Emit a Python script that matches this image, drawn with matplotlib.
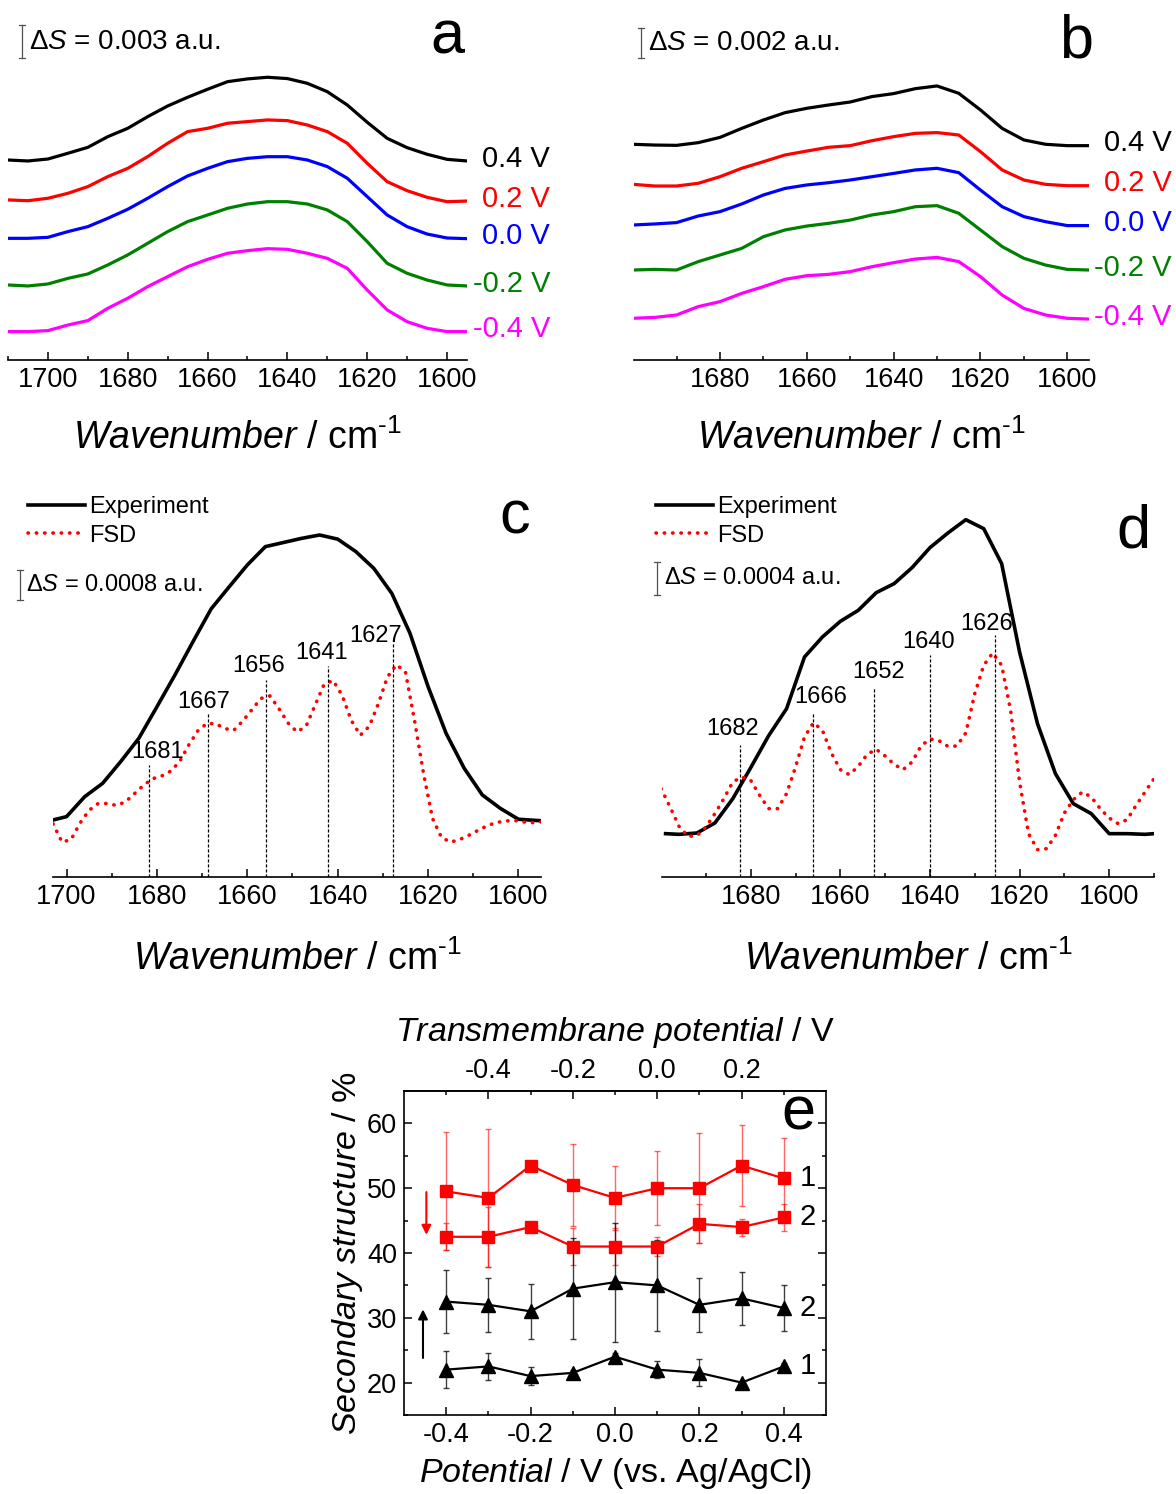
import matplotlib
matplotlib.use('Agg')
import matplotlib.pyplot as plt
from matplotlib.ticker import MultipleLocator, FixedLocator, FormatStrFormatter
from matplotlib.transforms import blended_transform_factory

plt.rcParams['font.family'] = 'Liberation Sans'
plt.rcParams['mathtext.fontset'] = 'custom'
plt.rcParams['mathtext.rm'] = 'Liberation Sans'
plt.rcParams['mathtext.it'] = 'Liberation Sans:italic'
plt.rcParams['axes.unicode_minus'] = False

W, H = 1176, 1494

# ── Panel a: spectra vs potential (ΔS in 1e-3 a.u., offset) ─────────────────
wn_a = [1710, 1705, 1700, 1695, 1690, 1685, 1680, 1675, 1670, 1665, 1660, 1655,
        1650, 1645, 1640, 1635, 1630, 1625, 1620, 1615, 1610, 1605, 1600, 1595]
a_p04 = [18.18, 18.09, 18.27, 18.79, 19.33, 20.30, 21.06, 22.12, 23.09, 23.88, 24.61, 25.30,
         25.55, 25.70, 25.58, 25.15, 24.39, 23.18, 21.61, 20.15, 19.30, 18.70, 18.24, 18.09]
a_p02 = [14.55, 14.48, 14.70, 15.15, 15.76, 16.67, 17.42, 18.49, 19.70, 20.76, 21.06, 21.52,
         21.67, 21.82, 21.76, 21.36, 20.76, 19.70, 17.88, 16.21, 15.39, 14.79, 14.39, 14.45]
a_p00 = [11.06, 11.06, 11.15, 11.67, 12.12, 12.88, 13.70, 14.70, 15.76, 16.73, 17.42, 18.03,
         18.33, 18.48, 18.48, 18.18, 17.58, 16.52, 14.85, 13.18, 12.12, 11.45, 11.09, 11.03]
a_m02 = [6.82, 6.73, 6.91, 7.42, 7.82, 8.64, 9.55, 10.61, 11.67, 12.58, 13.18, 13.79,
         14.18, 14.39, 14.39, 14.18, 13.64, 12.58, 10.76, 8.79, 7.88, 7.27, 6.82, 6.73]
a_m04 = [2.58, 2.58, 2.67, 3.18, 3.58, 4.70, 5.61, 6.67, 7.58, 8.48, 9.15, 9.70,
         9.94, 10.12, 10.06, 9.70, 9.24, 8.33, 6.36, 4.55, 3.48, 2.88, 2.58, 2.58]

# ── Panel b ──────────────────────────────────────────────────────────────────
wn_b = [1700, 1695, 1690, 1685, 1680, 1675, 1670, 1665, 1660, 1655, 1650,
        1645, 1640, 1635, 1630, 1625, 1620, 1615, 1610, 1605, 1600, 1595]
b_p04 = [14.38, 14.33, 14.31, 14.49, 14.84, 15.44, 16.0, 16.49, 16.78, 17.0, 17.2,
         17.56, 17.76, 18.09, 18.27, 17.78, 16.67, 15.44, 14.67, 14.38, 14.29, 14.29]
b_p02 = [11.71, 11.6, 11.6, 11.78, 12.22, 12.78, 13.22, 13.67, 13.93, 14.18, 14.29,
         14.62, 14.89, 15.11, 15.16, 15.0, 13.89, 12.67, 12.0, 11.71, 11.62, 11.62]
b_p00 = [9.0, 9.07, 9.16, 9.6, 9.89, 10.4, 11.0, 11.44, 11.67, 11.82, 12.0,
         12.22, 12.44, 12.67, 12.78, 12.49, 11.33, 10.22, 9.56, 9.22, 8.96, 8.96]
b_m02 = [6.0, 6.04, 6.0, 6.56, 7.0, 7.44, 8.22, 8.67, 8.93, 9.11, 9.33,
         9.67, 9.89, 10.22, 10.29, 9.78, 8.67, 7.56, 6.78, 6.33, 6.04, 6.0]
b_m04 = [2.78, 2.84, 3.0, 3.56, 3.89, 4.44, 4.89, 5.38, 5.62, 5.71, 5.89,
         6.22, 6.49, 6.73, 6.84, 6.56, 5.56, 4.33, 3.44, 3.0, 2.78, 2.73]

volt_labels = ['0.4 V', '0.2 V', '0.0 V', '-0.2 V', '-0.4 V']
volt_colors = ['black', '#ff0000', '#0000ff', '#008000', '#ff00ff']

# ── Panel c: experiment + FSD (1e-4 a.u.) ────────────────────────────────────
wn_c_exp = [1703, 1700, 1696, 1692, 1688, 1684, 1680, 1676, 1672, 1668, 1664, 1660, 1656, 1652,
            1648, 1644, 1640, 1636, 1632, 1628, 1624, 1620, 1616, 1612, 1608, 1604, 1600, 1595]
c_exp = [15.2, 16.1, 21.4, 25.0, 30.8, 37.0, 45.4, 53.9, 62.8, 71.5, 77.4, 83.2, 88.1, 89.2,
         90.3, 91.2, 90.1, 86.8, 82.3, 75.6, 65.0, 50.8, 38.3, 29.0, 21.9, 18.3, 15.4, 15.0]
wn_c_fsd = list(range(1703, 1594, -2))
c_fsd = [14.2, 9.3, 10.0, 14.4, 17.8, 19.6, 19.6, 19.1, 20.0, 22.2,
         24.4, 26.2, 26.9, 28.2, 30.7, 35.1, 38.9, 40.9, 40.9, 39.6,
         39.1, 41.6, 44.6, 47.6, 48.3, 44.9, 41.1, 38.7, 40.2, 45.8,
         51.4, 52.4, 48.4, 41.8, 37.8, 40.2, 46.2, 53.3, 56.6, 54.7,
         41.8, 27.6, 15.6, 10.5, 9.3, 10.0, 11.1, 12.4, 13.6, 14.5,
         14.9, 15.1, 14.7, 14.5, 14.7]
c_peak_pos = [1681.8, 1668.6, 1655.8, 1642.1, 1627.7]
c_peak_top = [29.9, 43.6, 52.5, 56.3, 62.6]
c_peak_lbl = ['1681', '1667', '1656', '1641', '1627']

# ── Panel d ──────────────────────────────────────────────────────────────────
wn_d_exp = [1699, 1696, 1692, 1688, 1684, 1680, 1676, 1672, 1668, 1664, 1660, 1656, 1652, 1648,
            1644, 1640, 1636, 1632, 1628, 1624, 1620, 1616, 1612, 1608, 1604, 1600, 1596, 1592, 1590]
d_exp = [5.2, 5.12, 5.28, 6.48, 9.4, 13.12, 16.96, 20.2, 26.4, 28.8, 30.68, 32.0, 34.12, 35.2,
         37.12, 39.52, 41.28, 42.88, 41.8, 37.6, 27.0, 18.4, 12.4, 8.8, 7.6, 5.2, 5.2, 5.12, 5.2]
wn_d_fsd = list(range(1700, 1589, -2))
d_fsd = [10.6, 8.4, 6.08, 4.88, 4.96, 6.0, 7.6, 9.4, 11.4, 12.0,
         11.6, 9.8, 8.2, 8.2, 10.0, 13.2, 16.8, 18.52, 17.6, 14.88,
         12.88, 12.28, 13.28, 14.72, 15.32, 14.52, 13.52, 12.88, 13.8, 15.72,
         16.56, 16.36, 15.68, 15.72, 17.28, 22.0, 25.4, 26.88, 25.4, 20.0,
         11.4, 5.2, 3.28, 3.4, 5.0, 7.68, 9.28, 10.2, 9.6, 8.2,
         7.08, 6.4, 6.88, 8.6, 10.2, 11.8]
d_peak_pos = [1682.5, 1666.1, 1652.5, 1640.1, 1625.5]
d_peak_top = [15.8, 19.7, 22.7, 26.6, 29.1]
d_peak_lbl = ['1682', '1666', '1652', '1640', '1626']

# ── Panel e: secondary structure vs potential ────────────────────────────────
pot = [-0.4, -0.3, -0.2, -0.1, 0.0, 0.1, 0.2, 0.3, 0.4]
red1 = [49.5, 48.5, 53.5, 50.5, 48.5, 50.0, 50.0, 53.5, 51.5]
red1_err = [9.1, 10.6, 0.5, 6.3, 4.9, 5.7, 8.5, 6.3, 6.3]
red2 = [42.5, 42.5, 44.0, 41.0, 41.0, 41.0, 44.5, 44.0, 45.5]
red2_err = [2.1, 4.6, 0.4, 2.8, 2.8, 1.4, 3.0, 1.3, 2.1]
blk2 = [32.5, 32.0, 31.0, 34.5, 35.5, 35.0, 32.0, 33.0, 31.5]
blk2_err = [4.9, 4.2, 4.2, 7.8, 9.2, 7.0, 4.2, 4.1, 3.5]
blk1 = [22.0, 22.5, 21.0, 21.5, 24.0, 22.0, 21.5, 20.0, 22.5]
blk1_err = [2.8, 2.1, 1.4, 0.5, 0.5, 1.3, 2.1, 0.3, 0.5]

WN_LABEL = '$\\mathit{Wavenumber}$ / cm$^{\u20101}$'


def px_axes(x0, y0, x1, y1):
    return fig.add_axes([x0 / W, 1 - y1 / H, (x1 - x0) / W, (y1 - y0) / H])


def style_spec(ax, xlim, ylim, labelpad):
    ax.set_xlim(*xlim)
    ax.set_ylim(*ylim)
    for s in ('left', 'right', 'top'):
        ax.spines[s].set_visible(False)
    ax.spines['bottom'].set_linewidth(1.2)
    ax.set_yticks([])
    ax.xaxis.set_major_locator(MultipleLocator(20))
    ax.xaxis.set_minor_locator(MultipleLocator(10))
    ax.tick_params(axis='x', which='both', direction='in', width=1.1,
                   labelsize=19.5, pad=5)
    ax.tick_params(axis='x', which='major', length=5.5)
    ax.tick_params(axis='x', which='minor', length=3)
    ax.set_xlabel(WN_LABEL, fontsize=27, labelpad=labelpad)


def scale_bar(ax, x_px, y0, dy, text, fs):
    # x_px is the pixel offset from the axes' left edge
    w_px = ax.get_position().width * W
    tr = blended_transform_factory(ax.transAxes, ax.transData)
    xf = x_px / w_px
    cap = 3.0 / w_px
    kw = dict(color='#505050', lw=0.9, transform=tr, clip_on=False)
    ax.plot([xf, xf], [y0, y0 + dy], **kw)
    for yy in (y0, y0 + dy):
        ax.plot([xf - cap, xf + cap], [yy, yy], **kw)
    ax.text(xf + 6.5 / w_px, y0 + dy / 2, text, transform=tr, fontsize=fs,
            ha='left', va='center')


def peak_marks(ax, pos, top, lbl, dxs, dys):
    for p, t, s, dx, dy in zip(pos, top, lbl, dxs, dys):
        ax.plot([p, p], [0, t], color='black', lw=0.9, ls=(0, (2.5, 1.5)))
        ax.annotate(s, xy=(p, t), xytext=(dx * 0.72, dy * 0.72),
                    textcoords='offset points', ha='center', va='bottom', fontsize=17)


def spec_legend(ax, handles, x_px, y_px):
    ax.legend(handles=handles, loc='upper left', frameon=False, fontsize=17,
              bbox_to_anchor=(x_px / W, 1 - y_px / H), bbox_transform=fig.transFigure,
              borderpad=0, borderaxespad=0, handlelength=2.4, handletextpad=0.2,
              labelspacing=0.28)


fig = plt.figure(figsize=(W / 100, H / 100), dpi=100)

# ── a ──
ax_a = px_axes(8, 15, 467, 360)
style_spec(ax_a, (1710, 1595), (0, 31.36), 19)
tr_a = blended_transform_factory(ax_a.transAxes, ax_a.transData)
for ys, lab, col in zip([a_p04, a_p02, a_p00, a_m02, a_m04], volt_labels, volt_colors):
    ax_a.plot(wn_a, ys, color=col, lw=2.3)
    ax_a.text(1.181, ys[-1] + 0.2, lab, transform=tr_a, color=col, fontsize=21,
              ha='right', va='center')
scale_bar(ax_a, 14, 27.45, 3, r'Δ$\mathit{S}$ = 0.003 a.u.', 20)

# ── b ──
ax_b = px_axes(634, 15, 1089, 360)
style_spec(ax_b, (1699.8, 1595), (0, 23), 19)
tr_b = blended_transform_factory(ax_b.transAxes, ax_b.transData)
for ys, lab, col in zip([b_p04, b_p02, b_p00, b_m02, b_m04], volt_labels, volt_colors):
    ax_b.plot(wn_b, ys, color=col, lw=2.3)
    ax_b.text(1.182, ys[-1] + 0.15, lab, transform=tr_b, color=col, fontsize=21,
              ha='right', va='center')
scale_bar(ax_b, 7, 20.13, 2, r'Δ$\mathit{S}$ = 0.002 a.u.', 20)

# ── c ──
ax_c = px_axes(53, 490, 541, 877)
style_spec(ax_c, (1703, 1595), (0, 103.2), 22)
exp_c, = ax_c.plot(wn_c_exp, c_exp, color='black', lw=2.6, label='Experiment')
fsd_c, = ax_c.plot(wn_c_fsd, c_fsd, color='#ff0000', lw=2.6, ls=(0, (0.1, 2.2)),
                   dash_capstyle='round', label='FSD')
peak_marks(ax_c, c_peak_pos, c_peak_top, c_peak_lbl,
           [9, -5, -8, -7, -18], [2, 1, 3, 2, -5])
scale_bar(ax_c, -33, 73.9, 8, r'Δ$\mathit{S}$ = 0.0008 a.u.', 17)
spec_legend(ax_c, [exp_c, fsd_c], 28, 496)

# ── d ──
ax_d = px_axes(662, 490, 1154, 877)
style_spec(ax_d, (1699.8, 1590), (0, 46.44), 22)
exp_d, = ax_d.plot(wn_d_exp, d_exp, color='black', lw=2.6, label='Experiment')
fsd_d, = ax_d.plot(wn_d_fsd, d_fsd, color='#ff0000', lw=2.6, ls=(0, (0.1, 2.2)),
                   dash_capstyle='round', label='FSD')
peak_marks(ax_d, d_peak_pos, d_peak_top, d_peak_lbl,
           [-7, 8, 5, -1, -8], [5, 5, 5, 2, -1])
scale_bar(ax_d, -5, 33.84, 4, r'Δ$\mathit{S}$ = 0.0004 a.u.', 17)
spec_legend(ax_d, [exp_d, fsd_d], 656, 496)

# ── e ──
ax_e = px_axes(404, 1091, 826, 1415)
ax_e.set_xlim(-0.5, 0.5)
ax_e.set_ylim(15, 65)
err_kw = dict(elinewidth=1.0, capsize=2.5, capthick=1.0)
ax_e.errorbar(pot, red1, yerr=red1_err, color='#ff0000', marker='s', ms=8.5, lw=1.6,
              ecolor=(1, 0, 0, 0.6), **err_kw)
ax_e.errorbar(pot, red2, yerr=red2_err, color='#ff0000', marker='s', ms=8.5, lw=1.6,
              ecolor=(1, 0, 0, 0.6), **err_kw)
ax_e.errorbar(pot, blk2, yerr=blk2_err, color='black', marker='^', ms=9.5, lw=1.6,
              ecolor=(0, 0, 0, 0.75), **err_kw)
ax_e.errorbar(pot, blk1, yerr=blk1_err, color='black', marker='^', ms=9.5, lw=1.6,
              ecolor=(0, 0, 0, 0.75), **err_kw)
for ys, s in zip([red1, red2, blk2, blk1], ['1', '2', '2', '1']):
    ax_e.text(0.457, ys[-1], s, fontsize=21, ha='center', va='center')
ax_e.annotate('', xy=(-0.447, 42.8), xytext=(-0.447, 49.4),
              arrowprops=dict(arrowstyle='-|>', color='#ff0000', lw=1.5,
                              mutation_scale=14, shrinkA=0, shrinkB=0))
ax_e.annotate('', xy=(-0.455, 31.3), xytext=(-0.455, 23.8),
              arrowprops=dict(arrowstyle='-|>', color='black', lw=1.5,
                              mutation_scale=14, shrinkA=0, shrinkB=0))
ax_e.xaxis.set_major_locator(FixedLocator([-0.4, -0.2, 0.0, 0.2, 0.4]))
ax_e.xaxis.set_minor_locator(FixedLocator([-0.3, -0.1, 0.1, 0.3]))
ax_e.xaxis.set_major_formatter(FormatStrFormatter('%.1f'))
ax_e.yaxis.set_major_locator(MultipleLocator(10))
ax_e.yaxis.set_minor_locator(MultipleLocator(5))
ax_e.tick_params(which='both', direction='in', right=True, width=1.1,
                 labelsize=19.5, pad=5)
ax_e.tick_params(which='major', length=5.5)
ax_e.tick_params(which='minor', length=3)
for s in ax_e.spines.values():
    s.set_linewidth(1.2)
ax_e.set_xlabel(r'$\mathit{Potential}$ / V (vs. Ag/AgCl)', fontsize=24.5, labelpad=6)
ax_e.set_ylabel(r'$\mathit{Secondary\ structure}$ / %', fontsize=24.5, labelpad=1)

sec = ax_e.secondary_xaxis('top', functions=(lambda x: x - 0.1, lambda x: x + 0.1))
sec.xaxis.set_major_locator(FixedLocator([-0.4, -0.2, 0.0, 0.2]))
sec.xaxis.set_minor_locator(FixedLocator([-0.5, -0.3, -0.1, 0.1, 0.3]))
sec.xaxis.set_major_formatter(FormatStrFormatter('%.1f'))
sec.tick_params(which='both', direction='in', width=1.1, labelsize=19.5, pad=5)
sec.tick_params(which='major', length=5.5)
sec.tick_params(which='minor', length=3)
sec.spines['top'].set_linewidth(1.2)
sec.set_xlabel(r'$\mathit{Transmembrane\ potential}$ / V', fontsize=24.5, labelpad=12)

# ── panel letters ──
for s, x, y in [('a', 447, 54), ('b', 1076, 57), ('c', 515, 533), ('d', 1133, 548), ('e', 798, 1130)]:
    fig.text(x / W, 1 - y / H, s, fontsize=44, ha='center', va='baseline')

fig.savefig('out.png', dpi=100)
